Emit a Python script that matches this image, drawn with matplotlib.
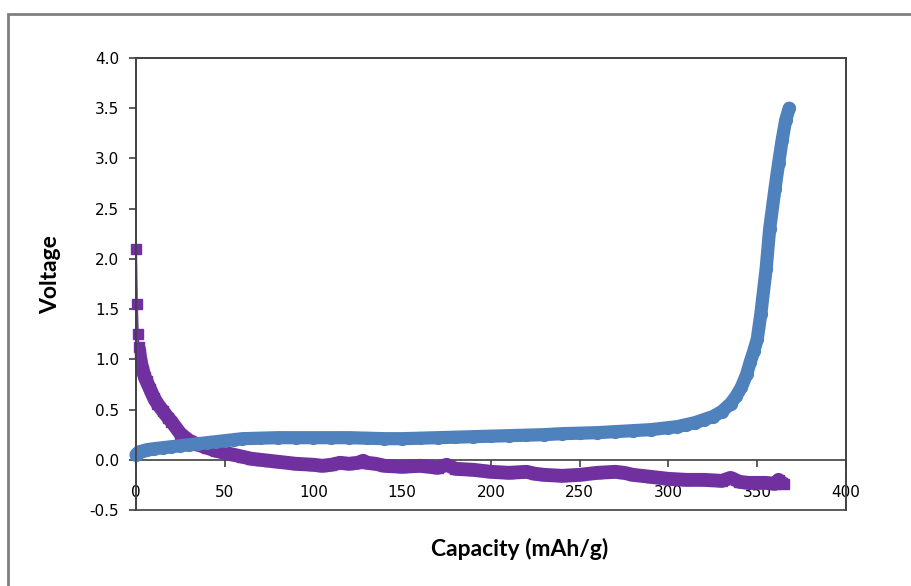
from matplotlib import pyplot as plt
from matplotlib.patches import Rectangle

# Charge curve (blue circles)
charge_cap = [0, 1, 2, 4, 6, 8, 10, 15, 20, 25, 30, 35, 40, 45, 50, 55, 60, 70, 80,
              90, 100, 110, 120, 130, 140, 150, 160, 170, 180, 190, 200, 210, 220,
              230, 240, 250, 260, 270, 280, 290, 300, 305, 310, 315, 320, 325, 330,
              335, 338, 341, 344, 346, 348, 350, 352, 355, 357, 360, 362, 364, 366, 368]
charge_v = [0.05, 0.07, 0.08, 0.09, 0.10, 0.105, 0.11, 0.12, 0.13, 0.14, 0.15, 0.16,
            0.17, 0.18, 0.19, 0.20, 0.21, 0.215, 0.22, 0.22, 0.22, 0.22, 0.22, 0.215,
            0.21, 0.21, 0.215, 0.22, 0.225, 0.23, 0.235, 0.24, 0.245, 0.25, 0.26,
            0.265, 0.27, 0.28, 0.29, 0.30, 0.32, 0.33, 0.35, 0.37, 0.40, 0.43, 0.48,
            0.56, 0.63, 0.72, 0.85, 0.97, 1.08, 1.2, 1.45, 1.9, 2.3, 2.7, 2.95, 3.18,
            3.38, 3.5]

# Discharge curve (purple squares)
dis_cap = [0, 0.5, 1, 1.5, 2, 3, 4, 5, 6, 8, 10, 12, 15, 18, 20, 25, 30, 35, 40, 45,
           50, 55, 60, 65, 70, 75, 80, 90, 100, 105, 110, 115, 120, 125, 128, 130,
           135, 140, 150, 160, 170, 175, 180, 190, 200, 210, 220, 225, 230, 240, 250,
           260, 270, 275, 280, 290, 300, 310, 320, 330, 335, 340, 345, 350, 355, 360,
           362, 364, 365]
dis_v = [2.1, 1.55, 1.25, 1.12, 1.05, 0.95, 0.88, 0.82, 0.78, 0.7, 0.62, 0.56, 0.49,
         0.42, 0.38, 0.26, 0.19, 0.15, 0.12, 0.09, 0.07, 0.05, 0.03, 0.01, 0.0, -0.01,
         -0.02, -0.04, -0.05, -0.06, -0.05, -0.03, -0.04, -0.03, -0.01, -0.03, -0.04,
         -0.06, -0.07, -0.06, -0.08, -0.05, -0.09, -0.1, -0.12, -0.13, -0.12, -0.14,
         -0.15, -0.16, -0.15, -0.13, -0.12, -0.13, -0.15, -0.17, -0.19, -0.2, -0.2,
         -0.21, -0.18, -0.22, -0.23, -0.23, -0.23, -0.24, -0.2, -0.23, -0.24]

xticks = [0, 50, 100, 150, 200, 250, 300, 350, 400]
yticks = [-0.5, 0.0, 0.5, 1.0, 1.5, 2.0, 2.5, 3.0, 3.5, 4.0]

BLUE = '#4F81BD'
PURPLE = '#7030A0'

fig = plt.figure(figsize=(9.12, 5.86), dpi=100)
ax = fig.add_axes([136 / 912, 1 - 510 / 586, 710 / 912, 452 / 586])

# outer chart border
fig.patches.append(Rectangle((8.5 / 912, -0.05), 1.2, 1 - 13.5 / 586 + 0.05,
                             transform=fig.transFigure, fill=False,
                             edgecolor='#7f7f7f', lw=2))

# discharge: thin line with squares, thick band once points get dense
ax.plot(dis_cap, dis_v, color=PURPLE, lw=1.5, marker='s', ms=7, mec=PURPLE,
        clip_on=False, zorder=3)
ax.plot(dis_cap[3:], dis_v[3:], color=PURPLE, lw=10, solid_capstyle='butt',
        zorder=3)

# charge
ax.plot(charge_cap, charge_v, color=BLUE, lw=9.5, solid_capstyle='round',
        marker='o', ms=8.5, mec=BLUE, zorder=4, clip_on=False)

ax.set_xlim(0, 400)
ax.set_ylim(-0.5, 4.0)
ax.set_xticks(xticks)
ax.set_yticks(yticks)
ax.set_xticklabels([str(t) for t in xticks])
ax.set_yticklabels([f'{t:.1f}' for t in yticks])

for s in ax.spines.values():
    s.set_color('#404040')
    s.set_linewidth(1.2)
ax.spines['bottom'].set_position(('data', 0))
ax.add_patch(Rectangle((0, 0), 1, 1, transform=ax.transAxes, fill=False,
                       edgecolor='#404040', lw=1.2, clip_on=False, zorder=5))

ax.tick_params(axis='x', direction='out', length=5, width=1.2, color='#404040',
               pad=13, labelsize=11)
ax.tick_params(axis='y', direction='out', length=5, width=1.2, color='#404040',
               pad=7, labelsize=11)

ax.set_xlabel('Capacity (mAh/g)', fontsize=16.5, fontweight='bold', family='Lato')
ax.set_ylabel('Voltage', fontsize=16.5, fontweight='bold', family='Lato')
ax.xaxis.set_label_coords(0.54, -0.062)
ax.yaxis.set_label_coords(-0.106, 0.52)

plt.savefig('out.png', dpi=100)
